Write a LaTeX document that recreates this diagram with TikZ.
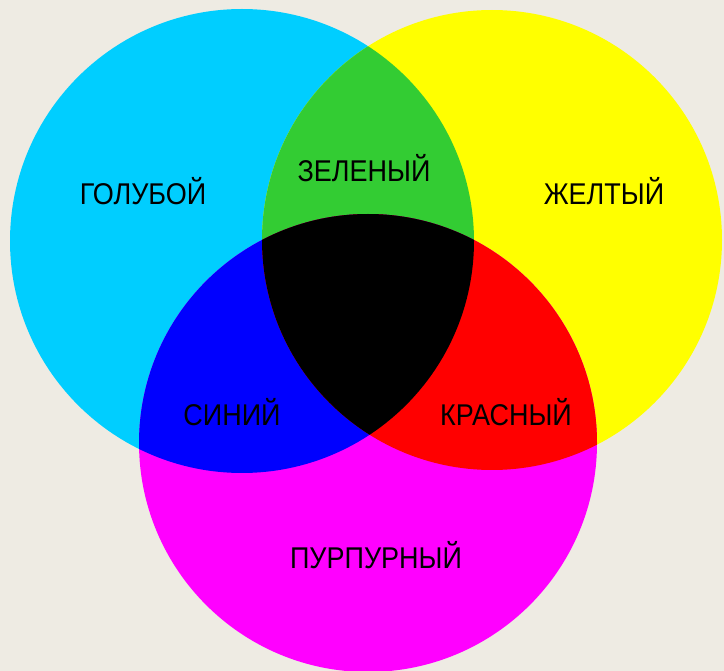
\documentclass[tikz,border=0pt]{standalone}
\usepackage{fontspec}
\setmainfont{Liberation Sans}
\newfontfamily\lblfont[FakeStretch=0.9]{Liberation Sans}
\definecolor{bgc}{RGB}{238,235,227}
\definecolor{cyanc}{RGB}{0,206,255}
\definecolor{yellowc}{RGB}{255,255,0}
\definecolor{magentac}{RGB}{255,0,255}
\definecolor{greenc}{RGB}{51,204,51}
\definecolor{bluec}{RGB}{0,0,255}
\definecolor{redc}{RGB}{255,0,0}
\tikzset{lbl/.style={font=\lblfont\fontsize{30}{30}\selectfont, text=black, inner sep=0pt}}
\begin{document}
\begin{tikzpicture}[x=1pt,y=-1pt]
\useasboundingbox (0,0) rectangle (724,671);
\fill[bgc] (0,0) rectangle (724,671);
\clip (0,0) rectangle (724,671);
\def\cyancirc{(242,241) circle[radius=232]}
\def\yellowcirc{(492,240) circle[radius=230]}
\def\magcirc{(368,443) circle[radius=229]}
\fill[cyanc] \cyancirc;
\fill[yellowc] \yellowcirc;
\fill[magentac] \magcirc;
\begin{scope}
  \clip \cyancirc;
  \fill[greenc] \yellowcirc;
  \fill[bluec] \magcirc;
\end{scope}
\begin{scope}
  \clip \yellowcirc;
  \fill[redc] \magcirc;
\end{scope}
\begin{scope}
  \clip \cyancirc;
  \clip \yellowcirc;
  \fill[black] \magcirc;
\end{scope}
\node[lbl] (cy) at (143,191) {ГОЛУБОЙ};
\node[lbl] (gr) at (364,168) {ЗЕЛЕНЫЙ};
\node[lbl] (ye) at (604,191) {ЖЕЛТЫЙ};
\node[lbl] (bl) at (232,412) {СИНИЙ};
\node[lbl] (rd) at (506,412) {КРАСНЫЙ};
\node[lbl] (mg) at (376,555) {ПУРПУРНЫЙ};
\end{tikzpicture}
\end{document}
